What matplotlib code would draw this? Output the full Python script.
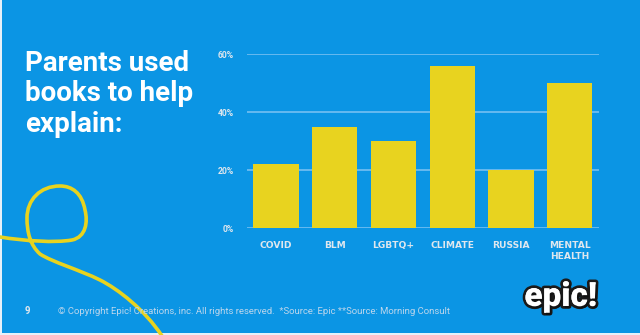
import matplotlib.pyplot as plt
import matplotlib.patheffects as pe
from matplotlib.path import Path
from matplotlib.patches import PathPatch, Rectangle
from matplotlib.ticker import FuncFormatter

categories = ['COVID', 'BLM', 'LGBTQ+', 'CLIMATE', 'RUSSIA', 'MENTAL\nHEALTH']
values = [22, 35, 30, 56, 20, 50]
yticks = [0, 20, 40, 60]

BLUE = '#0b95e4'
YELLOW = '#e8d31f'
GRID = '#66baf0'
LABEL = '#dfe7ee'

W, H = 640, 335
fig = plt.figure(figsize=(6.4, 3.35), dpi=100, facecolor='#e6f1f9')

# slide background (thin light edge on left and bottom like the screenshot)
fig.patches.append(Rectangle((1.5 / W, 2 / H), 1, 1, transform=fig.transFigure,
                             facecolor=BLUE, edgecolor='none', zorder=-2))


# decorative yellow swirl, in pixel coords from top-left
def px(x, y):
    return (x / W, 1 - y / H)

verts = [px(0, 237),
         px(25, 241), px(55, 243), px(72, 240),
         px(86, 237), px(88, 222), px(85, 210),
         px(82, 193), px(72, 186), px(60, 186),
         px(40, 186), px(27, 200), px(27, 218),
         px(27, 232), px(30, 245), px(40, 254),
         px(52, 262), px(80, 270), px(100, 280),
         px(118, 289), px(145, 310), px(162, 336)]
codes = [Path.MOVETO] + [Path.CURVE4] * 21
fig.patches.append(PathPatch(Path(verts, codes), transform=fig.transFigure,
                             facecolor='none', edgecolor=YELLOW, lw=2.6,
                             capstyle='round', zorder=-1))

ax = fig.add_axes([246.7 / W, 1 - 228.3 / H, (599 - 246.7) / W, (228.3 - 54) / H])
ax.set_zorder(2)
ax.set_facecolor('none')
x = range(len(categories))
ax.bar(x, values, width=0.77, color=YELLOW, zorder=3)
ax.set_xlim(-0.5, 5.5)
ax.set_ylim(0, 60)
ax.set_yticks(yticks)
ax.yaxis.set_major_formatter(FuncFormatter(lambda v, p: f'{v:.0f}%'))
ax.set_xticks(list(x))
ax.set_xticklabels(categories, fontfamily='DejaVu Sans', fontweight='bold',
                   fontsize=6.6, color=LABEL, linespacing=1.25, va='top')
for t in ax.get_yticklabels():
    t.set_fontfamily('Roboto')
    t.set_fontweight('bold')
    t.set_fontsize(6.2)
    t.set_color(LABEL)
ax.tick_params(length=0)
ax.tick_params(axis='x', pad=9)
ax.tick_params(axis='y', pad=9)
ax.grid(axis='y', color=GRID, lw=1.4, zorder=0)
ax.set_axisbelow(True)
for s in ax.spines.values():
    s.set_visible(False)

fig.text(25 / W, 1 - 50 / H, 'Parents used\nbooks to help\nexplain:', fontfamily='Roboto',
         fontweight='bold', fontsize=20, color='white', va='top', ha='left',
         linespacing=1.16)

fig.text(25 / W, 1 - 311 / H, '9', fontfamily='Roboto', fontweight='bold',
         fontsize=7, color=LABEL, va='center', ha='left')
fig.text(58 / W, 1 - 312 / H,
         '\u00a9 Copyright Epic! Creations, inc. All rights reserved.  *Source: Epic **Source: Morning Consult',
         fontfamily='Roboto', fontsize=6.8, color='#bcd6ec', va='center', ha='left')

fig.text(561 / W, 1 - 297 / H, 'epic!', fontfamily='Roboto', fontweight='black',
         fontsize=24, color='white', va='center', ha='center',
         path_effects=[pe.withStroke(linewidth=4, foreground='#1a1a1a'),
                       pe.SimplePatchShadow(offset=(1.2, -1.5), shadow_rgbFace='#111111', alpha=1),
                       pe.Normal()])

fig.savefig('out.png', dpi=100, facecolor=fig.get_facecolor())
